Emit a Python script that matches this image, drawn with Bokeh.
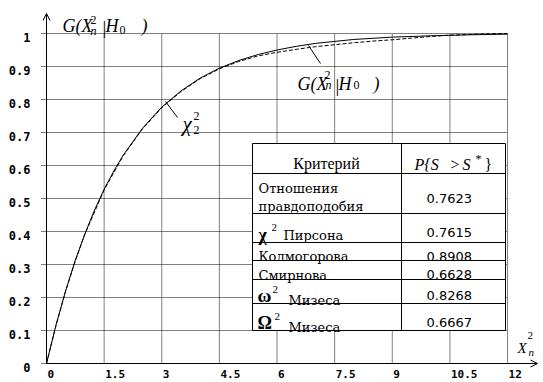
from bokeh.plotting import figure
from bokeh.models import Range1d, Arrow, OpenHead
from bokeh.core.properties import value
from bokeh.embed import file_html
from bokeh.resources import INLINE

# ---------------- data ----------------
x_chi = [0, 0.25, 0.5, 0.75, 1, 1.25, 1.5, 1.75, 2, 2.5, 3, 3.5, 4, 4.5, 5,
         5.5, 6, 6.5, 7, 7.5, 8, 9, 10, 11, 12]
g_chi = [0, 0.118, 0.221, 0.313, 0.393, 0.465, 0.528, 0.583, 0.632, 0.713,
         0.777, 0.826, 0.865, 0.895, 0.918, 0.936, 0.950, 0.961, 0.970,
         0.976, 0.982, 0.989, 0.993, 0.996, 0.998]

x_emp = [0, 0.25, 0.5, 0.75, 1, 1.5, 2, 2.5, 3, 3.5, 4, 4.5, 5, 5.5, 6,
         6.5, 7, 7.5, 8, 8.5, 9, 9.5, 10, 10.5, 11, 11.5, 12]
g_emp = [0, 0.116, 0.220, 0.311, 0.392, 0.526, 0.630, 0.711, 0.775, 0.824,
         0.863, 0.893, 0.915, 0.932, 0.943, 0.952, 0.960, 0.966, 0.972,
         0.977, 0.981, 0.986, 0.991, 0.995, 0.997, 0.999, 1.0]

x_ticks = [0, 1.5, 3, 4.5, 6, 7.5, 9, 10.5, 12]
x_tick_labels = ["0", "1.5", "3", "4.5", "6", "7.5", "9", "10.5", "12"]
y_ticks = [0, 0.1, 0.2, 0.3, 0.4, 0.5, 0.6, 0.7, 0.8, 0.9, 1.0]
y_tick_labels = ["0", "0.1", "0.2", "0.3", "0.4", "0.5", "0.6", "0.7",
                 "0.8", "0.9", "1"]

header_left = "Критерий"
crit_symbols = ["", "χ", "", "", "ω", "Ω"]
crit_names = ["Отношения\nправдоподобия", "Пирсона", "Колмогорова",
              "Смирнова", "Мизеса", "Мизеса"]
p_values = ["0.7623", "0.7615", "0.8908", "0.6628", "0.8268", "0.6667"]

# ---------------- layout helpers (picture pixels -> data) ----------------
X0_PX, X_PER = 46.0, 38.42   # x=0 at px 46, 38.42 px per unit
Y0_PX, Y_PER = 363.0, 330.0  # y=0 at px 363, 330 px per unit


def X(px):
    return (px - X0_PX) / X_PER


def Y(py):
    return (Y0_PX - py) / Y_PER


W, H = 543, 382
p = figure(width=W, height=H, output_backend="svg", toolbar_location=None,
           x_range=Range1d(X(0), X(W)), y_range=Range1d(Y(H), Y(0)),
           x_axis_type=None, y_axis_type=None,
           min_border=0, min_border_left=0, min_border_right=0,
           min_border_top=0, min_border_bottom=0)
p.outline_line_color = None
p.background_fill_color = "white"
p.border_fill_color = "white"

SERIF = value("Liberation Serif")
NAMEF = value("DejaVu Serif")
NUMF = value("DejaVu Sans")
TICKF = value("DejaVu Sans Mono")


def txt(s, px, py, size, style="normal", font=SERIF, align="left",
        baseline="alphabetic"):
    p.text(x=[X(px)], y=[Y(py)], text=[s], text_font=font,
           text_font_size=size, text_font_style=style, text_align=align,
           text_baseline=baseline, text_color="black")


# ---------------- dotted grid ----------------
p.segment(x0=[X(41)] * len(y_ticks), y0=y_ticks,
          x1=[x_ticks[-1]] * len(y_ticks), y1=y_ticks,
          line_color="black", line_width=1, line_dash="1 1")
vx = x_ticks[1:]
p.segment(x0=vx, y0=[0] * len(vx), x1=vx, y1=[y_ticks[-1]] * len(vx),
          line_color="black", line_width=1, line_dash="1 1")

# ---------------- curves ----------------
p.line(x_emp, g_emp, line_color="black", line_width=1, line_dash="4 2")
p.line(x_chi, g_chi, line_color="black", line_width=1)

# ---------------- axes with arrows ----------------
p.add_layout(Arrow(end=OpenHead(size=7, line_width=1, line_color="black"),
                   x_start=0, y_start=0, x_end=0, y_end=Y(13),
                   line_color="black", line_width=1))
p.add_layout(Arrow(end=OpenHead(size=7, line_width=1, line_color="black"),
                   x_start=0, y_start=0, x_end=X(537), y_end=0,
                   line_color="black", line_width=1))

# tick labels
p.text(x=[t + 1.0 / X_PER for t in x_ticks], y=[Y(373.5)] * len(x_ticks),
       text=x_tick_labels, text_font=TICKF, text_font_size="11px",
       text_font_style="bold", text_align="left", text_baseline="middle",
       text_color="black")
p.text(x=[X(30)] * len(y_ticks), y=[t - 3.5 / Y_PER for t in y_ticks],
       text=y_tick_labels, text_font=TICKF, text_font_size="12px",
       text_font_style="bold", text_align="right", text_baseline="middle",
       text_color="black")

# ---------------- axis titles ----------------
# top-left G(X_n^2|H_0)
txt("G(X", 62, 25, "18px", "italic")
txt("2", 90, 19, "12px")
txt("n", 90, 30, "12px", "italic")
txt("|", 102, 27, "19px")
txt("H", 105, 25, "18px", "italic")
txt("0", 119, 29, "12px")
txt(")", 141, 25, "18px", "italic")

# bottom-right X_n^2
txt("X", 517, 347, "15px", "italic")
txt("2", 527, 335, "11px")
txt("n", 528, 351, "11px", "italic")

# ---------------- curve labels ----------------
p.segment(x0=[X(308)], y0=[Y(45)], x1=[X(320)], y1=[Y(63)],
          line_color="black", line_width=1)
txt("G(X", 297, 83, "18px", "italic")
txt("2", 324, 74, "12px")
txt("n", 325, 84, "12px", "italic")
txt("|", 335, 85, "19px")
txt("H", 338, 83, "18px", "italic")
txt("0", 353, 84, "12px")
txt(")", 373, 83, "18px", "italic")

p.segment(x0=[X(165)], y0=[Y(101)], x1=[X(177)], y1=[Y(117)],
          line_color="black", line_width=1)
txt("χ", 182, 123, "21px", "italic")
txt("2", 193, 115, "12px")
txt("2", 193, 129, "12px")

# ---------------- table ----------------
T_L, T_M, T_R = 252, 401, 505
rows_px = [143, 173, 213, 242, 260, 279, 303, 330]
p.quad(left=[X(T_L)], right=[X(T_R)], top=[Y(rows_px[0])],
       bottom=[Y(rows_px[-1])], fill_color="white", line_color="black",
       line_width=1)
inner = rows_px[1:-1]
p.segment(x0=[X(T_L)] * len(inner), y0=[Y(r) for r in inner],
          x1=[X(T_R)] * len(inner), y1=[Y(r) for r in inner],
          line_color="black", line_width=1)
p.segment(x0=[X(T_M)], y0=[Y(rows_px[0])], x1=[X(T_M)], y1=[Y(rows_px[-1])],
          line_color="black", line_width=1)

# header
txt(header_left, 326, 163, "16px", align="center")
txt("P{S", 414, 164, "16px", "italic")
txt(">", 449, 164, "16px", "italic")
txt("S", 462, 164, "16px", "italic")
txt("*", 475, 158, "12px")
txt("}", 484, 164, "16px")

name_lines = crit_names[0].split("\n")
txt(name_lines[0], 258, 188, "13px", font=NAMEF)
txt(name_lines[1], 258, 206, "13px", font=NAMEF)

txt(crit_symbols[1], 258, 234, "18px", "bold")
txt("2", 271, 227, "11px")
txt(crit_names[1], 283, 235, "13px", font=NAMEF)
txt(crit_names[2], 258, 256, "13px", font=NAMEF)
txt(crit_names[3], 258, 275, "13px", font=NAMEF)
txt(crit_symbols[4], 257, 295, "19px", "bold")
txt("2", 272, 289, "11px")
txt(crit_names[4], 288, 300, "13px", font=NAMEF)
txt(crit_symbols[5], 257, 322, "18px", "bold")
txt("2", 274, 316, "11px")
txt(crit_names[5], 288, 327, "13px", font=NAMEF)

num_base = [198, 232, 256, 274, 295, 322]
p.text(x=[X(426)] * len(p_values), y=[Y(b) for b in num_base],
       text=p_values, text_font=NUMF, text_font_size="13px",
       text_align="left", text_baseline="alphabetic", text_color="black")

open("out.html", "w").write(file_html(p, INLINE))
